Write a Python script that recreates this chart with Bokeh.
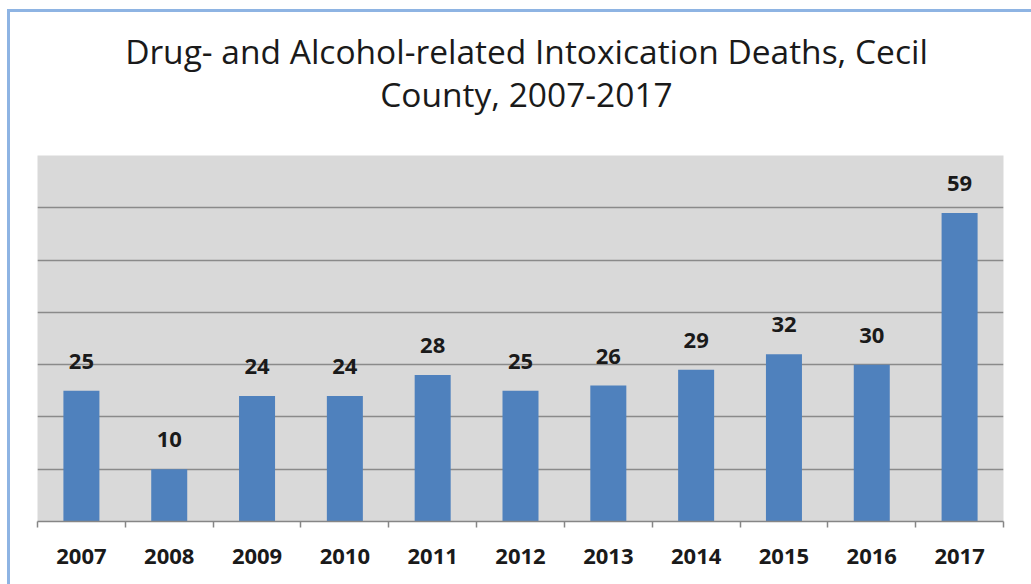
from bokeh.plotting import figure
from bokeh.models import FixedTicker, Range1d, ColumnDataSource, Div
from bokeh.layouts import column
from bokeh.core.properties import value
from bokeh.embed import file_html
from bokeh.resources import INLINE

title_lines = ["Drug- and Alcohol-related Intoxication Deaths, Cecil", "County, 2007-2017"]
years = ["2007", "2008", "2009", "2010", "2011", "2012", "2013", "2014", "2015", "2016", "2017"]
deaths = [25, 10, 24, 24, 28, 25, 26, 29, 32, 30, 59]
grid_ticks = [0, 10, 20, 30, 40, 50, 60, 70]

FONT = "Open Sans"
idx = list(range(len(years)))
src = ColumnDataSource(dict(x=idx, y=deaths, lab=[str(v) for v in deaths]))

title = Div(text="<br>".join(title_lines), width=1021, height=143, margin=0,
            styles={"text-align": "center", "font-family": FONT, "font-size": "33.5px",
                    "line-height": "43px", "color": "#1a1a1a", "padding-top": "18px",
                    "padding-left": "12px", "box-sizing": "border-box", "width": "1021px"})

p = figure(width=1021, height=429, output_backend="svg", toolbar_location=None,
           x_range=Range1d(-0.5, len(years) - 0.5), y_range=Range1d(0, 70),
           min_border_left=27, min_border_right=28, min_border_top=0, min_border_bottom=63)

p.background_fill_color = "#d9d9d9"
p.border_fill_color = "white"
p.outline_line_color = None

p.vbar(x="x", top="y", width=0.41, source=src, fill_color="#4f81bd", line_color=None)
p.text(x="x", y="y", text="lab", source=src, text_align="center", text_baseline="bottom",
       y_offset=-22, text_font=value(FONT), text_font_style="bold", text_font_size="22px",
       text_color="#1a1a1a")

p.yaxis.visible = False
p.ygrid.ticker = FixedTicker(ticks=grid_ticks)
p.ygrid.grid_line_color = "#8a8a8a"
p.ygrid.grid_line_width = 1.5
p.xgrid.visible = False

ax = p.xaxis[0]
ax.ticker = FixedTicker(ticks=idx, minor_ticks=[i - 0.5 for i in range(len(years) + 1)])
ax.major_label_overrides = {i: y for i, y in enumerate(years)}
ax.major_tick_out = 0
ax.major_tick_in = 0
ax.minor_tick_out = 6
ax.minor_tick_in = 0
ax.minor_tick_line_color = "#868686"
ax.minor_tick_line_width = 1.5
ax.axis_line_color = "#868686"
ax.axis_line_width = 1.5
ax.major_label_standoff = 21
ax.major_label_text_font = FONT
ax.major_label_text_font_style = "bold"
ax.major_label_text_font_size = "22px"
ax.major_label_text_color = "#1a1a1a"

layout = column(title, p, spacing=0,
                styles={"border-left": "3px solid #8eb4e3", "border-top": "3px solid #8eb4e3",
                        "margin-left": "7px", "margin-top": "9px"})

open("out.html", "w").write(file_html(layout, INLINE))
